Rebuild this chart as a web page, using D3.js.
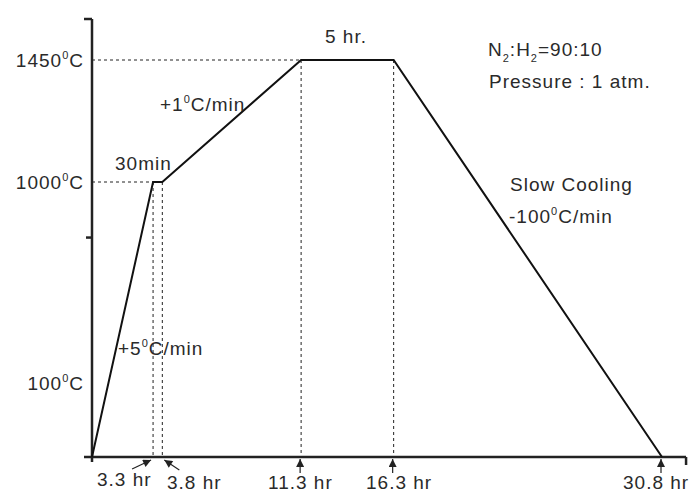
<!DOCTYPE html>
<html><head><meta charset="utf-8">
<script src="https://cdn.jsdelivr.net/npm/d3@7/dist/d3.min.js"></script>
<style>
body{margin:0;background:#fff;}
text{font-family:"Liberation Sans",Arial,sans-serif;fill:#2a2a2a;letter-spacing:1px;}
</style></head><body>
<svg id="c" width="694" height="503"></svg>
<script>
// Data
const times = [0, 3.3, 3.8, 11.3, 16.3, 30.8];           // hr
const temps = [0, 1000, 1000, 1450, 1450, 0];            // °C (schematic)
const timeLabels = ["3.3 hr", "3.8 hr", "11.3 hr", "16.3 hr", "30.8 hr"];
const labelTimes = [3.3, 3.8, 11.3, 16.3, 30.8];
const tempTicks = [1450, 1000, 100];
const tempTickLabels = ["1450", "1000", "100"];
const dashTimes = [3.3, 3.8, 11.3, 16.3];

const svg = d3.select("#c");
const x = d3.scaleLinear().domain([0, 30.8]).range([92, 662]);
// schematic (non-uniform) temperature axis as drawn
const y = d3.scaleLinear().domain([0, 100, 1000, 1450, 1600]).range([457, 382, 182, 60, 19]);

svg.append("defs").append("marker")
  .attr("id","ah").attr("viewBox","0 0 10 10").attr("refX",10).attr("refY",5)
  .attr("markerWidth",11).attr("markerHeight",8).attr("markerUnits","userSpaceOnUse")
  .attr("orient","auto")
  .append("path").attr("d","M0,0L10,5L0,10Z").attr("fill","#222");

// dashed guides
const g = svg.append("g").attr("stroke","#222").attr("stroke-width",1).attr("stroke-dasharray","3,3").attr("fill","none");
[1000,1450].forEach(t=>{
  const tx = t===1000 ? 3.3 : 11.3;
  g.append("line").attr("x1",x(0)).attr("x2",x(tx)).attr("y1",y(t)).attr("y2",y(t));
});
dashTimes.forEach((t,i)=>{
  const tv = temps[times.indexOf(t)];
  g.append("line").attr("x1",x(t)).attr("x2",x(t)).attr("y1",y(tv)).attr("y2",y(0));
});

// axes
const ax = svg.append("g").attr("stroke","#222").attr("stroke-width",2.5).attr("fill","none");
ax.append("line").attr("x1",x(0)).attr("x2",x(0)).attr("y1",y(1600)).attr("y2",y(0)+5);
ax.append("line").attr("x1",x(0)-8).attr("x2",x(0)).attr("y1",y(1600)).attr("y2",y(1600));
ax.append("line").attr("x1",x(0)-6).attr("x2",x(0)).attr("y1",y(750)).attr("y2",y(750));
ax.append("line").attr("x1",x(0)-8).attr("x2",x(32.1)).attr("y1",y(0)).attr("y2",y(0));
ax.append("line").attr("x1",x(32.1)).attr("x2",x(32.1)).attr("y1",y(0)).attr("y2",y(0)+8);

// profile
svg.append("path").datum(times.map((t,i)=>[t,temps[i]]))
  .attr("d", d3.line().x(d=>x(d[0])).y(d=>y(d[1])))
  .attr("fill","none").attr("stroke","#111").attr("stroke-width",2).attr("stroke-linejoin","miter");

// helper for text with super/subscripts
function rich(parent, px, py, parts, anchor){
  const t = parent.append("text").attr("x",px).attr("y",py).attr("font-size",19)
    .attr("text-anchor",anchor||"start");
  let shift = 0;
  parts.forEach(p=>{
    const s = t.append("tspan").text(p.t);
    let target = p.sup ? -8 : p.sub ? 6 : 0;
    s.attr("dy", target - shift); shift = target;
    if (p.sup || p.sub) s.attr("font-size",11);
  });
  return t;
}

// y tick labels
tempTicks.forEach((v,i)=>{
  rich(svg, 84, y(v)+ (v===100?8:7), [{t:tempTickLabels[i]},{t:"0",sup:true},{t:"C"}], "end");
});

// x labels and arrows
const xl = [[97,486],[167,489],[268,489],[366,489],[623,489]];
timeLabels.forEach((s,i)=>{
  svg.append("text").attr("x",xl[i][0]).attr("y",xl[i][1]).attr("font-size",19).text(s);
});
const arr = svg.append("g").attr("stroke","#222").attr("stroke-width",1.2);
// diagonal arrows for 3.3 / 3.8
arr.append("line").attr("x1",x(3.3)-21).attr("y1",y(0)+12).attr("x2",x(3.3)-2).attr("y2",y(0)+3).attr("marker-end","url(#ah)");
arr.append("line").attr("x1",x(3.8)+17).attr("y1",y(0)+13).attr("x2",x(3.8)+2).attr("y2",y(0)+3).attr("marker-end","url(#ah)");
[11.3,16.3,30.8].forEach(t=>{
  arr.append("line").attr("x1",x(t)-1).attr("x2",x(t)-1).attr("y1",y(0)+16).attr("y2",y(0)+2).attr("marker-end","url(#ah)");
});

// annotations
svg.append("text").attr("x",115).attr("y",170).attr("font-size",19).text("30min");
rich(svg,160,111,[{t:"+1"},{t:"0",sup:true},{t:"C/min"}]);
svg.append("text").attr("x",325).attr("y",43).attr("font-size",19).text("5 hr.");
rich(svg,488,56,[{t:"N"},{t:"2",sub:true},{t:":H"},{t:"2",sub:true},{t:"=90:10"}]);
svg.append("text").attr("x",489).attr("y",88).attr("font-size",19).text("Pressure : 1 atm.");
svg.append("text").attr("x",510).attr("y",191).attr("font-size",19).text("Slow Cooling");
rich(svg,509,223,[{t:"-100"},{t:"0",sup:true},{t:"C/min"}]);
rich(svg,118,355,[{t:"+5"},{t:"0",sup:true},{t:"C/min"}]);
</script></body></html>
